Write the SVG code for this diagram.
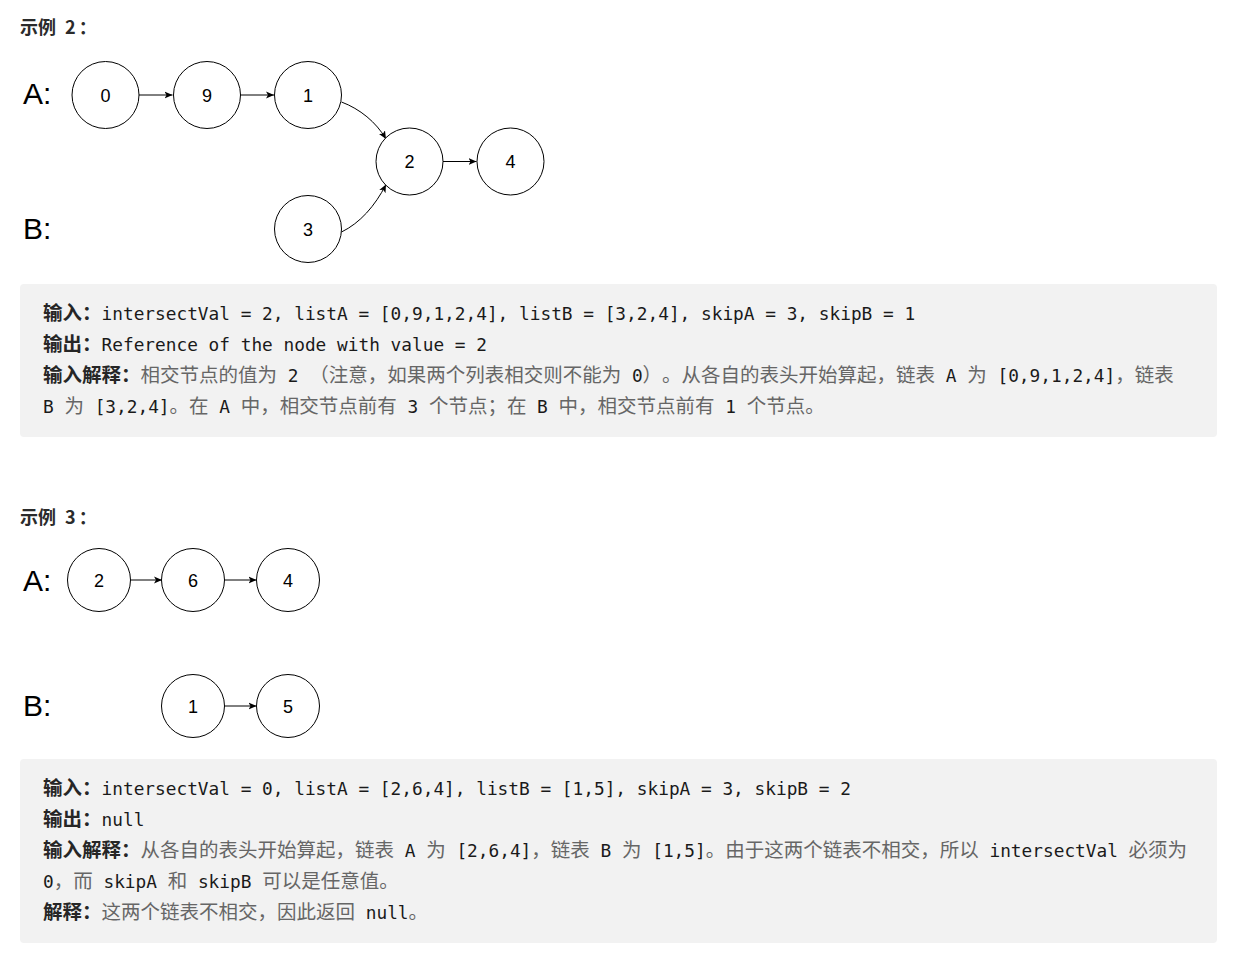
<svg xmlns="http://www.w3.org/2000/svg" width="1235" height="961" viewBox="0 0 1235 961">
<style>
.bg{fill:#ffffff}
.box{fill:#f2f2f2}
.head{font-family:"Noto Sans CJK SC","Noto Sans",sans-serif;font-weight:bold;font-size:18px;fill:#2b2b2b;white-space:pre}
.big{font-family:"Liberation Sans",Arial,sans-serif;font-size:30px;fill:#000}
.node circle{fill:#fff;stroke:#000;stroke-width:1}
.node text{font-family:"Liberation Sans",Arial,sans-serif;font-size:18px;fill:#000;text-anchor:middle}
.edge{fill:none;stroke:#000;stroke-width:1}
.line{white-space:pre;font-size:19.5px;text-spacing-trim:space-all}
.b{font-family:"Noto Sans CJK SC",sans-serif;font-weight:bold;font-size:19.5px;fill:#262626}
.z{font-family:"Noto Sans CJK SC",sans-serif;font-size:19.5px;fill:#666666}
.m{font-family:"DejaVu Sans Mono","Liberation Mono",monospace;font-size:17.8px;fill:#1a1a1a}
</style>
<defs>
<marker id="arr" markerWidth="9" markerHeight="8" refX="8" refY="4" orient="auto" markerUnits="userSpaceOnUse">
<path d="M0,0.5 L8,4 L0,7.5 L2,4 z" fill="#000"/>
</marker>
</defs>
<rect class="bg" x="0" y="0" width="1235" height="961"/>

<text class="head" x="20" y="34">示例 <tspan x="65">2</tspan><tspan dx="3">：</tspan></text>
<text class="big" x="23" y="104">A:</text>
<text class="big" x="23" y="239">B:</text>

<g id="connectors-ex2">
<line class="edge" x1="139" y1="95" x2="172.5" y2="95" marker-end="url(#arr)"/>
<line class="edge" x1="240" y1="95" x2="274" y2="95" marker-end="url(#arr)"/>
<line class="edge" x1="443" y1="161.5" x2="476.5" y2="161.5" marker-end="url(#arr)"/>
<path class="edge" d="M341.5,102 C360,109 376,122 386,139" marker-end="url(#arr)"/>
<path class="edge" d="M341.5,232 C360,223 375,206 386,184.5" marker-end="url(#arr)"/>
</g>

<g id="ex2-A0" class="node"><circle cx="105.5" cy="95" r="33.5"/><text x="105.5" y="101.5">0</text></g>
<g id="ex2-A9" class="node"><circle cx="207" cy="95" r="33.5"/><text x="207" y="101.5">9</text></g>
<g id="ex2-A1" class="node"><circle cx="308" cy="95" r="33.5"/><text x="308" y="101.5">1</text></g>
<g id="ex2-C2" class="node"><circle cx="409.5" cy="161.5" r="33.5"/><text x="409.5" y="168">2</text></g>
<g id="ex2-C4" class="node"><circle cx="510.5" cy="161.5" r="33.5"/><text x="510.5" y="168">4</text></g>
<g id="ex2-B3" class="node"><circle cx="308" cy="229" r="33.5"/><text x="308" y="235.5">3</text></g>

<g id="box-ex2">
<rect class="box" x="20" y="284" width="1197" height="153" rx="4"/>
<text class="line" x="43" y="320"><tspan class="b">输入：</tspan><tspan class="m">intersectVal = 2, listA = [0,9,1,2,4], listB = [3,2,4], skipA = 3, skipB = 1</tspan></text>
<text class="line" x="43" y="351"><tspan class="b">输出：</tspan><tspan class="m">Reference of the node with value = 2</tspan></text>
<text class="line" x="43" y="382"><tspan class="b">输入解释：</tspan><tspan class="z">相交节点的值为</tspan><tspan class="m"> 2 </tspan><tspan class="z">（注意，如果两个列表相交则不能为</tspan><tspan class="m"> 0</tspan><tspan class="z">）。从各自的表头开始算起，链表</tspan><tspan class="m"> A </tspan><tspan class="z">为</tspan><tspan class="m"> [0,9,1,2,4]</tspan><tspan class="z">，链表</tspan></text>
<text class="line" x="43" y="413"><tspan class="m">B </tspan><tspan class="z">为</tspan><tspan class="m"> [3,2,4]</tspan><tspan class="z">。在</tspan><tspan class="m"> A </tspan><tspan class="z">中，相交节点前有</tspan><tspan class="m"> 3 </tspan><tspan class="z">个节点；在</tspan><tspan class="m"> B </tspan><tspan class="z">中，相交节点前有</tspan><tspan class="m"> 1 </tspan><tspan class="z">个节点。</tspan></text>
</g>

<text class="head" x="20" y="524">示例 <tspan x="65">3</tspan><tspan dx="3">：</tspan></text>
<text class="big" x="23" y="591">A:</text>
<text class="big" x="23" y="716">B:</text>

<g id="connectors-ex3">
<line class="edge" x1="130" y1="580" x2="162" y2="580" marker-end="url(#arr)"/>
<line class="edge" x1="224" y1="580" x2="256.5" y2="580" marker-end="url(#arr)"/>
<line class="edge" x1="224" y1="706" x2="256.5" y2="706" marker-end="url(#arr)"/>
</g>

<g id="ex3-A2" class="node"><circle cx="99" cy="580" r="31.5"/><text x="99" y="586.5">2</text></g>
<g id="ex3-A6" class="node"><circle cx="193" cy="580" r="31.5"/><text x="193" y="586.5">6</text></g>
<g id="ex3-A4" class="node"><circle cx="288" cy="580" r="31.5"/><text x="288" y="586.5">4</text></g>
<g id="ex3-B1" class="node"><circle cx="193" cy="706" r="31.5"/><text x="193" y="712.5">1</text></g>
<g id="ex3-B5" class="node"><circle cx="288" cy="706" r="31.5"/><text x="288" y="712.5">5</text></g>

<g id="box-ex3">
<rect class="box" x="20" y="759" width="1197" height="184" rx="4"/>
<text class="line" x="43" y="795"><tspan class="b">输入：</tspan><tspan class="m">intersectVal = 0, listA = [2,6,4], listB = [1,5], skipA = 3, skipB = 2</tspan></text>
<text class="line" x="43" y="826"><tspan class="b">输出：</tspan><tspan class="m">null</tspan></text>
<text class="line" x="43" y="857"><tspan class="b">输入解释：</tspan><tspan class="z">从各自的表头开始算起，链表</tspan><tspan class="m"> A </tspan><tspan class="z">为</tspan><tspan class="m"> [2,6,4]</tspan><tspan class="z">，链表</tspan><tspan class="m"> B </tspan><tspan class="z">为</tspan><tspan class="m"> [1,5]</tspan><tspan class="z">。由于这两个链表不相交，所以</tspan><tspan class="m"> intersectVal </tspan><tspan class="z">必须为</tspan></text>
<text class="line" x="43" y="888"><tspan class="m">0</tspan><tspan class="z">，而</tspan><tspan class="m"> skipA </tspan><tspan class="z">和</tspan><tspan class="m"> skipB </tspan><tspan class="z">可以是任意值。</tspan></text>
<text class="line" x="43" y="919"><tspan class="b">解释：</tspan><tspan class="z">这两个链表不相交，因此返回</tspan><tspan class="m"> null</tspan><tspan class="z">。</tspan></text>
</g>
</svg>
